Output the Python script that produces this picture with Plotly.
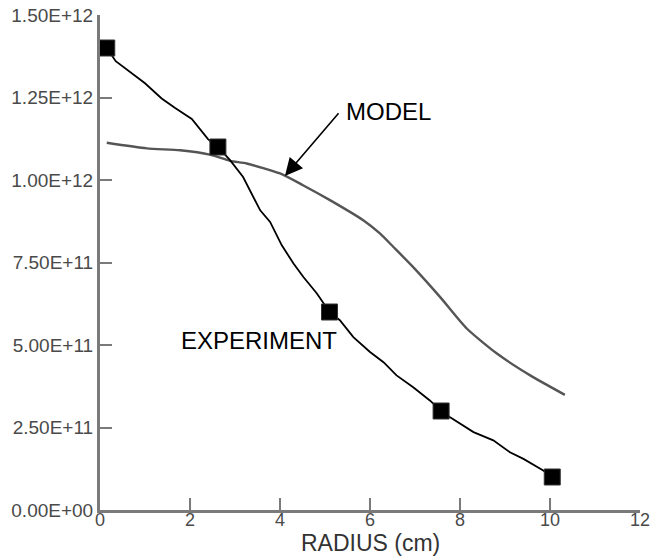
import plotly.graph_objects as go

# Measured density at each probe radius
exp_r = [0.15, 2.62, 5.1, 7.58, 10.05]
exp_n = [1.40e12, 1.10e12, 6.0e11, 3.0e11, 1.0e11]

# Hand-traced experimental curve joining the measurements
exp_curve_r = [0.15, 0.35, 1.0, 1.37, 1.67, 2.04, 2.4, 2.62,
               2.89, 3.18, 3.56, 3.78, 4.04, 4.30, 4.52, 4.82, 5.1,
               5.33, 5.63, 6.0, 6.30, 6.59, 6.96, 7.33, 7.58,
               7.78, 8.30, 8.74, 9.11, 9.41, 9.85, 10.05]
exp_curve_n = [1.40e12, 1.36e12, 1.293e12, 1.247e12, 1.218e12, 1.185e12, 1.124e12, 1.10e12,
               1.06e12, 1.009e12, 0.908e12, 0.873e12, 0.802e12, 0.747e12, 0.706e12, 0.656e12, 0.60e12,
               0.575e12, 0.524e12, 0.479e12, 0.448e12, 0.408e12, 0.372e12, 0.332e12, 0.30e12,
               0.281e12, 0.236e12, 0.211e12, 0.175e12, 0.155e12, 0.12e12, 0.10e12]

# Model prediction
model_r = [0.15, 1.04, 1.78, 2.44, 2.89, 3.26, 4.0, 4.5, 5.11, 5.85, 6.22, 6.52,
           6.96, 7.56, 8.15, 8.82, 9.56, 10.33]
model_n = [1.113e12, 1.096e12, 1.090e12, 1.077e12, 1.058e12, 1.05e12, 1.020e12, 0.985e12,
           0.939e12, 0.878e12, 0.838e12, 0.797e12, 0.736e12, 0.645e12, 0.55e12, 0.474e12,
           0.408e12, 0.349e12]

# Axis ticks
x_ticks = [0, 2, 4, 6, 8, 10, 12]
y_ticks = [0, 2.5e11, 5.0e11, 7.5e11, 1.0e12, 1.25e12, 1.5e12]
y_tick_text = ["0.00E+00", "2.50E+11", "5.00E+11", "7.50E+11",
               "1.00E+12", "1.25E+12", "1.50E+12"]

FONT = "Liberation Sans, Arial, Helvetica, sans-serif"
AXIS_GRAY = "#7a7a7a"
TICK_TEXT = "#4a4a4a"

fig = go.Figure()

fig.add_trace(go.Scatter(
    x=model_r, y=model_n, mode="lines",
    line=dict(color="#555555", width=2.4, shape="spline", smoothing=0.6),
    showlegend=False, hoverinfo="skip"))

fig.add_trace(go.Scatter(
    x=exp_curve_r, y=exp_curve_n, mode="lines",
    line=dict(color="black", width=1.8),
    showlegend=False, hoverinfo="skip"))

fig.add_trace(go.Scatter(
    x=exp_r, y=exp_n, mode="markers",
    marker=dict(symbol="square", size=16, color="black",
                line=dict(color="#333333", width=1)),
    showlegend=False))

# Labels and pointer
fig.add_annotation(x=4.11, y=1.012e12, ax=5.33, ay=1.207e12,
                   xref="x", yref="y", axref="x", ayref="y",
                   text="", showarrow=True, arrowhead=2, arrowsize=2.2,
                   arrowwidth=1.6, arrowcolor="black")
fig.add_annotation(x=5.42, y=1.209e12, xref="x", yref="y",
                   text="MODEL", showarrow=False, xanchor="left", yanchor="middle",
                   font=dict(family=FONT, size=24, color="black"))
fig.add_annotation(x=1.75, y=0.514e12, xref="x", yref="y",
                   text="EXPERIMENT", showarrow=False, xanchor="left", yanchor="middle",
                   font=dict(family=FONT, size=24, color="black"))

# Horizontal axis title, placed just under the tick labels
fig.add_annotation(x=0.5, y=-0.066, xref="paper", yref="paper",
                   text="RADIUS (cm)", showarrow=False, borderpad=0,
                   xanchor="center", yanchor="middle",
                   font=dict(family=FONT, size=23, color="#333333"))

fig.update_xaxes(
    range=[0, 12], tickvals=x_ticks, ticktext=[str(v) for v in x_ticks],
    ticks="inside", ticklen=12, tickwidth=2, tickcolor=AXIS_GRAY,
    showline=True, linecolor=AXIS_GRAY, linewidth=3,
    showgrid=False, zeroline=False, automargin=False,
    ticklabelstandoff=-9,
    tickfont=dict(family=FONT, size=18, color=TICK_TEXT))

fig.update_yaxes(
    range=[0, 1.5e12], tickvals=y_ticks, ticktext=y_tick_text,
    ticks="inside", ticklen=12, tickwidth=2, tickcolor=AXIS_GRAY,
    showline=True, linecolor=AXIS_GRAY, linewidth=3,
    showgrid=False, zeroline=False, automargin=False,
    tickfont=dict(family=FONT, size=19, color=TICK_TEXT))

fig.update_layout(
    width=651, height=558,
    margin=dict(l=100, r=11, t=15, b=48),
    paper_bgcolor="white", plot_bgcolor="white",
    font=dict(family=FONT))

fig.write_html("out.html")
